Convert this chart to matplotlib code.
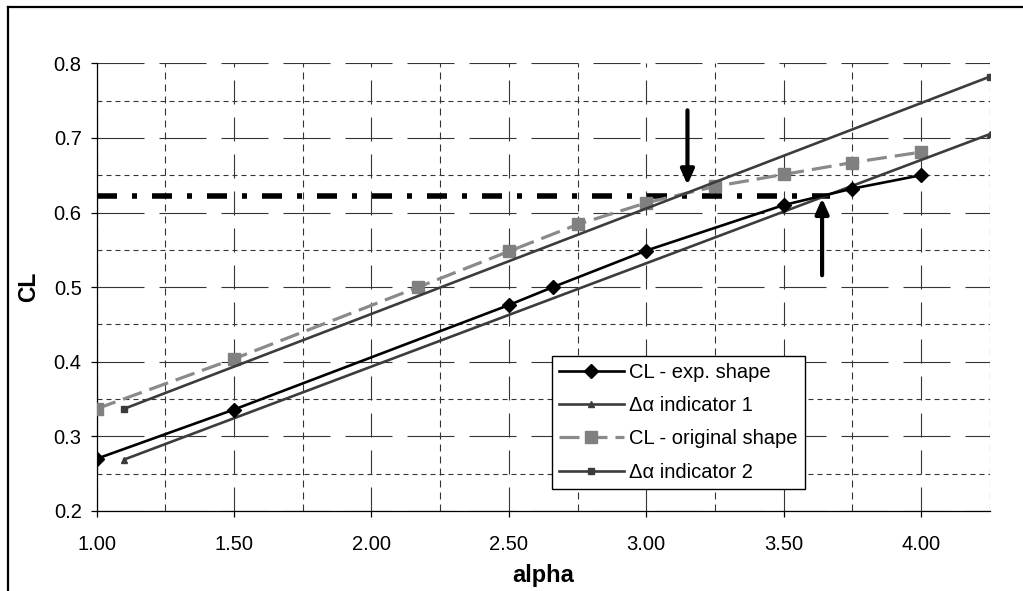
import matplotlib
matplotlib.use("Agg")
import matplotlib.pyplot as plt
from matplotlib.lines import Line2D
from matplotlib.ticker import MultipleLocator, FormatStrFormatter

# ---- data -------------------------------------------------------------
alpha_exp = [1.00, 1.50, 2.50, 2.66, 3.00, 3.50, 3.75, 4.00]
cl_exp = [0.270, 0.336, 0.476, 0.500, 0.549, 0.610, 0.632, 0.650]

alpha_orig = [1.00, 1.50, 2.17, 2.50, 2.75, 3.00, 3.25, 3.50, 3.75, 4.00]
cl_orig = [0.337, 0.404, 0.500, 0.548, 0.584, 0.613, 0.635, 0.651, 0.667, 0.681]

alpha_ind1 = [1.10, 4.25]
cl_ind1 = [0.269, 0.705]

alpha_ind2 = [1.10, 4.25]
cl_ind2 = [0.337, 0.782]

cl_target = 0.622
alpha_target = [1.00, 3.67]

arrow_down = (3.15, 0.737, 0.637)   # alpha, tail CL, tip CL
arrow_up = (3.64, 0.516, 0.619)

labels = ["CL - exp. shape", "\u0394\u03b1 indicator 1",
          "CL - original shape", "\u0394\u03b1 indicator 2"]

# ---- style ------------------------------------------------------------
plt.rcParams["font.family"] = ["Liberation Sans", "DejaVu Sans"]
plt.rcParams["lines.scale_dashes"] = False
PX = 72.0 / 100.0  # points per pixel at 100 dpi

fig = plt.figure(figsize=(10.23, 5.91), dpi=100)
ax = fig.add_axes([96.7 / 1023, 1 - 511 / 591, 893 / 1023, 447.7 / 591])

# outer chart frame (left and top edges visible)
fig.add_artist(Line2D([8 / 1023, 8 / 1023], [-0.05, 1 - 7 / 591],
                      transform=fig.transFigure, color="black", lw=1.6))
fig.add_artist(Line2D([8 / 1023, 1.05], [1 - 7 / 591, 1 - 7 / 591],
                      transform=fig.transFigure, color="black", lw=1.6))

ax.set_xlim(1.0, 4.25)
ax.set_ylim(0.2, 0.8)
ax.xaxis.set_major_locator(MultipleLocator(0.5))
ax.xaxis.set_minor_locator(MultipleLocator(0.25))
ax.yaxis.set_major_locator(MultipleLocator(0.1))
ax.yaxis.set_minor_locator(MultipleLocator(0.05))
ax.xaxis.set_major_formatter(FormatStrFormatter("%.2f"))
ax.yaxis.set_major_formatter(FormatStrFormatter("%.1f"))

grid_c = "#353535"
ax.grid(True, which="major", axis="y", color=grid_c, lw=0.8,
        linestyle=(0, (47 * PX, 15 * PX)))
ax.grid(True, which="minor", axis="y", color=grid_c, lw=0.8,
        linestyle=(0, (5 * PX, 4 * PX)))
ax.grid(True, which="major", axis="x", color=grid_c, lw=0.8,
        linestyle=(0, (24 * PX, 13 * PX)))
ax.grid(True, which="minor", axis="x", color=grid_c, lw=0.8,
        linestyle=(0, (7 * PX, 5 * PX)))
ax.set_axisbelow(True)

for s in ("top", "right"):
    ax.spines[s].set_visible(False)
for s in ("left", "bottom"):
    ax.spines[s].set_color("black")
    ax.spines[s].set_linewidth(0.9)

ax.tick_params(axis="both", which="major", direction="out", length=4.3,
               width=0.9, color="black", labelsize=14.5, labelcolor="black")
ax.tick_params(axis="y", which="major", pad=6.5)
ax.tick_params(axis="x", which="major", pad=13)
ax.tick_params(axis="both", which="minor", length=0)

# ---- series -----------------------------------------------------------
ax.plot(alpha_target, [cl_target, cl_target], color="black", lw=4.0,
        linestyle=(0, (20 * PX, 15 * PX, 5 * PX, 15 * PX)),
        solid_capstyle="butt", dash_capstyle="butt", zorder=3)

h_exp, = ax.plot(alpha_exp, cl_exp, color="black", lw=1.9, marker="D",
                 ms=6.8, mfc="black", mec="black", zorder=6)
h_ind1, = ax.plot(alpha_ind1, cl_ind1, color="#3c3c3c", lw=1.9, marker="^",
                  ms=5, mfc="#3c3c3c", mec="#3c3c3c", zorder=5)
h_orig, = ax.plot(alpha_orig, cl_orig, color="#8a8a8a", lw=2.3,
                  linestyle=(0, (20 * PX, 8 * PX)), marker="s", ms=9,
                  mfc="#808080", mec="#808080", zorder=4)
h_ind2, = ax.plot(alpha_ind2, cl_ind2, color="#3c3c3c", lw=1.9, marker="s",
                  ms=4, mfc="#3c3c3c", mec="#3c3c3c", zorder=5)

for a, y0, y1 in (arrow_down, arrow_up):
    ax.annotate("", xy=(a, y1), xytext=(a, y0),
                arrowprops=dict(arrowstyle="-|>,head_length=0.45,head_width=0.2",
                                mutation_scale=20, lw=3, color="black",
                                shrinkA=0, shrinkB=0),
                zorder=7)

ax.set_xlabel("alpha", fontsize=17, fontweight="bold", labelpad=7)
ax.set_ylabel("CL", fontsize=16.5, fontweight="bold", labelpad=10)

leg = ax.legend([h_exp, h_ind1, h_orig, h_ind2], labels,
                loc="upper left",
                bbox_to_anchor=(551.7 / 1023, 1 - 355.7 / 591),
                bbox_transform=fig.transFigure,
                fontsize=14.5, frameon=True, fancybox=False, shadow=False,
                edgecolor="black", framealpha=1.0, borderpad=0.35,
                handlelength=3.25, handletextpad=0.25, labelspacing=0.71,
                borderaxespad=0, numpoints=1)
leg.get_frame().set_linewidth(1.0)
leg.set_zorder(10)

fig.savefig("out.png", dpi=100)
